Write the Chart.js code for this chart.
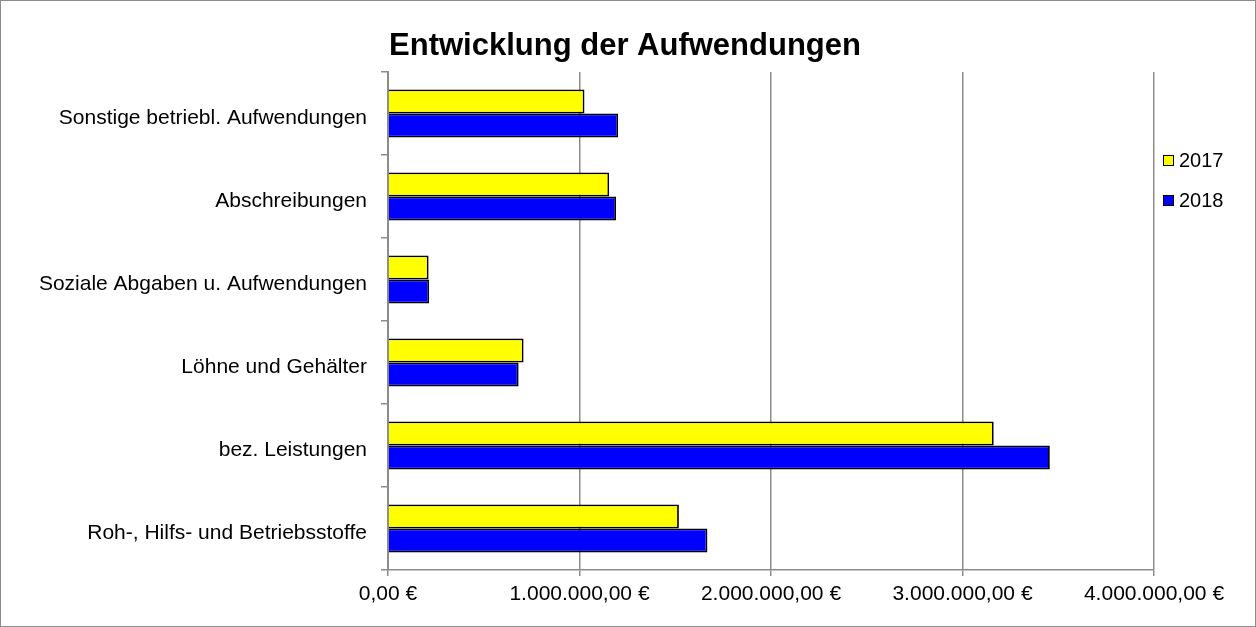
<!DOCTYPE html>
<html>
<head>
<meta charset="utf-8">
<script src="https://cdn.jsdelivr.net/npm/chart.js@4.4.0/dist/chart.umd.min.js"></script>
<style>
    body { margin: 0; background: #fff; }
    #wrap { width: 1256px; height: 627px; box-sizing: border-box; border: 1px solid #8c8c8c; position: relative; }
    canvas { display: block; }
</style>
</head>
<body>
<div id="wrap"><canvas id="aufwand" width="1254" height="625"></canvas></div>
<script>
// Kategorien von oben nach unten
const categories = [
    'Sonstige betriebl. Aufwendungen',
    'Abschreibungen',
    'Soziale Abgaben u. Aufwendungen',
    'Löhne und Gehälter',
    'bez. Leistungen',
    'Roh-, Hilfs- und Betriebsstoffe'
];
const values2017 = [1026000, 1155000, 212000, 708000, 3163000, 1519000];
const values2018 = [1202000, 1191000, 215000, 682000, 3456000, 1668000];
const tickLabels = ['0,00 €', '1.000.000,00 €', '2.000.000,00 €', '3.000.000,00 €', '4.000.000,00 €'];
const chartTitle = 'Entwicklung der Aufwendungen';

const FONT = 'Liberation Sans, Arial, sans-serif';
const GREY = '#8c8c8c';

// Titel und Legende selbst zeichnen (Position wie im Original)
const extras = {
    id: 'extras',
    afterDraw(chart) {
        const ctx = chart.ctx;
        ctx.save();
        ctx.fillStyle = '#000';
        ctx.font = 'bold 31px ' + FONT;
        ctx.textAlign = 'center';
        ctx.textBaseline = 'middle';
        ctx.fillText(chartTitle, 624, 45);

        const x = chart.chartArea.right + 9;
        const rows = [159, 199];
        ctx.textAlign = 'left';
        chart.data.datasets.forEach((ds, i) => {
            const y = rows[i];
            ctx.fillStyle = ds.backgroundColor;
            ctx.fillRect(x, y - 5, 11, 11);
            ctx.strokeStyle = '#000';
            ctx.lineWidth = 1;
            ctx.strokeRect(x + 0.5, y - 4.5, 10, 10);
            ctx.fillStyle = '#000';
            ctx.font = '20px ' + FONT;
            ctx.fillText(ds.label, x + 16, y + 1);
        });
        ctx.restore();
    }
};

const ctx = document.getElementById('aufwand').getContext('2d');
const myChart = new Chart(ctx, {
    type: 'bar',
    data: {
        labels: categories,
        datasets: [{
            label: '2017',
            data: values2017,
            backgroundColor: '#ffff00',
            borderColor: '#000',
            borderWidth: 1.8,
            categoryPercentage: 0.58,
            barPercentage: 1
        }, {
            label: '2018',
            data: values2018,
            backgroundColor: '#0000ff',
            borderColor: '#000',
            borderWidth: 1.8,
            categoryPercentage: 0.58,
            barPercentage: 1
        }]
    },
    options: {
        indexAxis: 'y',
        responsive: false,
        animation: false,
        layout: { padding: { left: 0, right: 101, top: 71, bottom: 0 } },
        plugins: {
            legend: { display: false },
            tooltip: { enabled: false },
            title: { display: false }
        },
        scales: {
            x: {
                min: 0,
                max: 4000000,
                ticks: {
                    stepSize: 1000000,
                    color: '#000',
                    font: { family: FONT, size: 21 },
                    padding: 6,
                    maxRotation: 0,
                    callback: (v, i) => tickLabels[i]
                },
                grid: { color: GREY, lineWidth: 1.5, tickLength: 6 },
                border: { color: GREY, width: 1.5 },
                afterFit: function(scale) { scale.height = 56; }
            },
            y: {
                ticks: {
                    color: '#000',
                    font: { family: FONT, size: 21 },
                    padding: 14,
                    labelOffset: 5
                },
                grid: { drawOnChartArea: false, color: GREY, lineWidth: 1.5, tickLength: 7, offset: true },
                border: { color: GREY, width: 2 },
                afterFit: function(scale) { scale.width = 387; }
            }
        }
    },
    plugins: [extras]
});
</script>
</body>
</html>
